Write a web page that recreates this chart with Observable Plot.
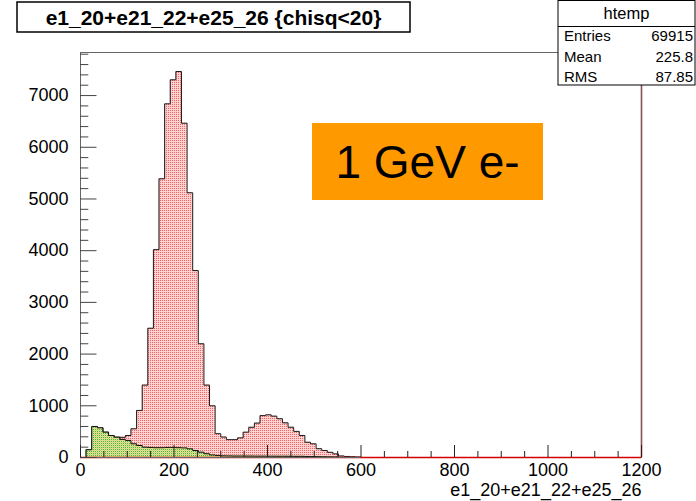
<!DOCTYPE html>
<html>
<head>
<meta charset="utf-8">
<script src="https://cdn.jsdelivr.net/npm/d3@7"></script>
<script src="https://cdn.jsdelivr.net/npm/@observablehq/plot@0.6"></script>
<style>
  body { margin: 0; background: #fff; }
  #chart { width: 696px; height: 501px; }
</style>
</head>
<body>
<div id="chart"></div>
<script>
// htemp: 100 bins of 12 over [0, 1200]; only the first 50 bins are filled
const binWidth = 12;
const allEntries = [
  0, 150, 600, 575, 490, 425, 393, 390, 425, 555,
  910, 1400, 2500, 4020, 5390, 6840, 7305, 7465, 6465, 5120,
  3615, 2200, 1400, 1000, 460, 395, 345, 345, 380, 490,
  585, 665, 810, 825, 800, 750, 670, 585, 505, 425,
  295, 265, 170, 135, 100, 70, 30, 20, 15, 10
];
// same sum restricted to the low-energy selection (hatched overlay)
const selEntries = [
  0, 150, 600, 575, 490, 425, 393, 350, 330, 265,
  232, 200, 195, 190, 190, 195, 195, 190, 185, 168,
  135, 102, 72, 50, 40, 32, 30, 28, 28, 27,
  27, 26, 26, 25, 25, 24, 24, 23, 22, 22,
  20, 18, 16, 14, 12, 10
];
const xTicks = [0, 200, 400, 600, 800, 1000, 1200];
const yTicks = [0, 1000, 2000, 3000, 4000, 5000, 6000, 7000];
const xMinorStep = 50;
const yMinorStep = 200;
const yMax = 7833;

const titleText = "e1_20+e21_22+e25_26 {chisq<20}";
const xLabel = "e1_20+e21_22+e25_26";
const statsName = "htemp";
const statsRows = [["Entries", "69915"], ["Mean", "225.8"], ["RMS", "87.85"]];
const boxText = "1 GeV e-";

// outline vertices for a step histogram starting at zero
function stepPoints(values) {
  const pts = [{x: 0, y: 0}];
  values.forEach((v, i) => pts.push({x: i * binWidth, y: v}));
  const end = values.length * binWidth;
  pts.push({x: end, y: values[values.length - 1]});
  pts.push({x: end, y: 0});
  return pts;
}
const allPts = stepPoints(allEntries);
const selPts = stepPoints(selEntries);

const xMinor = d3.range(0, 1200 + 1, xMinorStep).filter(v => v % 200 !== 0);
const yMinor = d3.range(0, yMax, yMinorStep).filter(v => v % 1000 !== 0);

const font = "Liberation Sans, Arial, Helvetica, sans-serif";
const plain = d3.format("d");

const plot = Plot.plot({
  width: 696,
  height: 501,
  marginLeft: 80,
  marginRight: 55,
  marginTop: 52,
  marginBottom: 44,
  x: {domain: [0, 1200]},
  y: {domain: [0, yMax]},
  style: {fontFamily: font, fontSize: "18px", color: "#000", background: "#fff"},
  marks: [
    // filled histograms
    Plot.areaY(allPts, {x: "x", y: "y", curve: "step-after", fill: "url(#pinkDots)"}),
    Plot.line(allPts, {x: "x", y: "y", curve: "step-after", stroke: "#1a1a1a", strokeWidth: 1}),
    Plot.areaY(selPts, {x: "x", y: "y", curve: "step-after", fill: "url(#greenDots)"}),
    Plot.ruleY([0], {stroke: "#d40000", strokeWidth: 1.5}),
    Plot.ruleX([1200], {stroke: "#c00000", strokeWidth: 1.5}),
    Plot.line(selPts, {x: "x", y: "y", curve: "step-after", stroke: "#111", strokeWidth: 1}),
    // frame and inward ticks
    Plot.frame({stroke: "#666", strokeWidth: 1}),
    Plot.ruleY([0], {stroke: "#d40000", strokeWidth: 1.2, x1: 600, x2: 1200}),
    Plot.axisX(xTicks, {tickSize: -12, text: null, label: null, stroke: "#222"}),
    Plot.axisX(xMinor, {tickSize: -6, text: null, label: null, stroke: "#222"}),
    Plot.axisY(yTicks, {tickSize: -16.5, text: null, label: null, stroke: "#444"}),
    Plot.axisY(yMinor, {tickSize: -8.3, text: null, label: null, stroke: "#444"}),
    // tick labels
    Plot.axisX(xTicks, {tickSize: 0, tickPadding: 6, label: null, fontSize: 18, tickFormat: plain}),
    Plot.axisY(yTicks, {tickSize: 0, tickPadding: 12, label: null, fontSize: 18, tickFormat: plain}),
    Plot.text([xLabel], {frameAnchor: "bottom-right", dy: 33, textAnchor: "end", lineAnchor: "middle", fontSize: 18})
  ]
});

document.getElementById("chart").appendChild(plot);

const svg = d3.select(plot);

// dotted fill patterns
const defs = svg.insert("defs", ":first-child");
const pink = defs.append("pattern").attr("id", "pinkDots")
  .attr("patternUnits", "userSpaceOnUse").attr("width", 2).attr("height", 2);
pink.append("rect").attr("width", 2).attr("height", 2).attr("fill", "#ffd2d2");
pink.append("rect").attr("width", 1).attr("height", 1).attr("fill", "#f06464");
const green = defs.append("pattern").attr("id", "greenDots")
  .attr("patternUnits", "userSpaceOnUse").attr("width", 2).attr("height", 2);
green.append("rect").attr("width", 2).attr("height", 2).attr("fill", "rgba(214,236,130,0.78)");
green.append("rect").attr("x", 1).attr("y", 1).attr("width", 1).attr("height", 1).attr("fill", "#46b446");

// title box
const title = svg.append("g").attr("text-anchor", "middle");
title.append("rect").attr("x", 17).attr("y", 2).attr("width", 393).attr("height", 30)
  .attr("fill", "#fff").attr("stroke", "#000").attr("stroke-width", 1.5);
title.append("text").attr("x", 213.5).attr("y", 25)
  .attr("font-family", font).attr("font-weight", "bold").attr("font-size", 21)
  .text(titleText);

// statistics box
const stats = svg.append("g").attr("font-family", font);
stats.append("rect").attr("x", 558).attr("y", 0.5).attr("width", 137).attr("height", 84.5)
  .attr("fill", "#fff").attr("stroke", "#000").attr("stroke-width", 1);
stats.append("line").attr("x1", 558).attr("x2", 695).attr("y1", 26.5).attr("y2", 26.5)
  .attr("stroke", "#000");
stats.append("text").attr("x", 626.5).attr("y", 19).attr("text-anchor", "middle")
  .attr("font-size", 16.5).text(statsName);
statsRows.forEach(([k, v], i) => {
  const y = 41 + i * 20.5;
  stats.append("text").attr("x", 564).attr("y", y).attr("text-anchor", "start")
    .attr("font-size", 15).text(k);
  stats.append("text").attr("x", 693).attr("y", y).attr("text-anchor", "end")
    .attr("font-size", 15).text(v);
});

// energy label
const label = svg.append("g");
label.append("rect").attr("x", 312).attr("y", 123).attr("width", 231).attr("height", 77)
  .attr("fill", "#ff9900");
label.append("text").attr("x", 427.5).attr("y", 178).attr("text-anchor", "middle")
  .attr("font-family", font).attr("font-size", 46).text(boxText);
</script>
</body>
</html>
